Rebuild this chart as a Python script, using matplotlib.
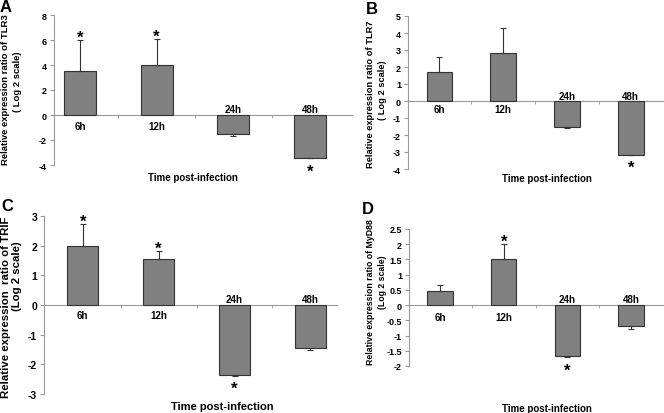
import numpy as np
import matplotlib.pyplot as plt

plt.rcParams['font.family'] = ['Liberation Sans', 'DejaVu Sans']
plt.rcParams['font.weight'] = 'bold'

times = ['6h', '12h', '24h', '48h']

# values (log2 ratio) and error bar ends
tlr3 = [3.55, 4.0, -1.55, -3.4]
tlr3_err = [2.45, 2.05, 0.1, 0.05]
tlr3_star = [True, True, False, True]

tlr7 = [1.7, 2.85, -1.5, -3.15]
tlr7_err = [0.9, 1.45, 0.1, 0.0]
tlr7_star = [False, False, False, True]

trif = [2.0, 1.55, -2.35, -1.45]
trif_err = [0.72, 0.27, 0.03, 0.07]
trif_star = [True, True, True, False]

myd88 = [0.47, 1.52, -1.67, -0.67]
myd88_err = [0.18, 0.48, 0.05, 0.11]
myd88_star = [False, True, True, False]

W, H = 664, 414
fig = plt.figure(figsize=(W / 100, H / 100), dpi=100)


def px_axes(l, r, t, b):
    return fig.add_axes([l / W, 1 - b / H, (r - l) / W, (b - t) / H])


def panel(ax, vals, errs, stars, ylim, yticks, xlim, width, tick_fs,
          lab_below, lab_above, xl_pos, xl_fs):
    x = np.arange(len(vals))
    ax.bar(x, vals, width=width, color='#808080', edgecolor='#333333',
           linewidth=0.8, zorder=3)
    lo = [e if v < 0 else 0 for v, e in zip(vals, errs)]
    hi = [e if v >= 0 else 0 for v, e in zip(vals, errs)]
    ax.errorbar(x, vals, yerr=[lo, hi], fmt='none', ecolor='#333333',
                elinewidth=0.8, capsize=2.5, capthick=0.8, zorder=4)
    for i, v in enumerate(vals):
        if v >= 0:
            ax.annotate(times[i], (i, 0), xytext=(0, -lab_below * 0.72),
                        textcoords='offset points', ha='center', va='center',
                        fontsize=7, fontweight='bold')
        else:
            ax.annotate(times[i], (i, 0), xytext=(0, lab_above * 0.72),
                        textcoords='offset points', ha='center', va='center',
                        fontsize=7, fontweight='bold')
        if stars[i]:
            end = v + errs[i] if v >= 0 else v - errs[i]
            dy = 8 if v >= 0 else -8
            ax.annotate('*', (i, end), xytext=(0, dy * 0.72 - 3.5),
                        textcoords='offset points', ha='center', va='center',
                        fontsize=12, fontweight='bold', annotation_clip=False)
    ax.set_xlim(*xlim)
    ax.set_ylim(*ylim)
    ax.set_yticks(yticks)
    ax.set_yticklabels([('%g' % t) for t in yticks], fontsize=tick_fs,
                       fontweight='bold')
    ax.set_xticks([])
    ax.set_xticks([0.5, 1.5, 2.5], minor=True)
    ax.tick_params(axis='x', which='minor', length=2, color='#999999',
                   direction='out')
    ax.tick_params(axis='y', length=3, color='#999999', pad=2)
    for s in ['top', 'right']:
        ax.spines[s].set_visible(False)
    ax.spines['bottom'].set_position(('data', 0))
    ax.spines['bottom'].set_color('#999999')
    ax.spines['left'].set_color('#999999')
    ax.patch.set_alpha(0)
    ax.text(xl_pos[0], xl_pos[1], 'Time post-infection', transform=ax.transAxes,
            ha='center', va='center', fontsize=xl_fs, fontweight='bold')


axA = px_axes(54, 352, 16, 166)
panel(axA, tlr3, tlr3_err, tlr3_star, (-4, 8), [-4, -2, 0, 2, 4, 6, 8],
      (-0.34, 3.55), 0.42, 6.5, 11, 6, (0.466, -0.08), 7)

axB = px_axes(408, 664, 17, 170)
panel(axB, tlr7, tlr7_err, tlr7_star, (-4, 5), list(range(-4, 6)),
      (-0.49, 3.52), 0.4, 6.5, 8, 5, (0.543, -0.059), 7)

axC = px_axes(44, 337, 217, 395)
panel(axC, trif, trif_err, trif_star, (-3, 3), list(range(-3, 4)),
      (-0.51, 3.35), 0.41, 7.5, 10, 6, (0.607, -0.067), 8)

axD = px_axes(409, 664, 230, 367)
panel(axD, myd88, myd88_err, myd88_star, (-2, 2.5),
      [-2, -1.5, -1, -0.5, 0, 0.5, 1, 1.5, 2, 2.5],
      (-0.49, 3.52), 0.4, 6.5, 12, 6, (0.541, -0.307), 7)

# y labels, two separate lines each
def ylab(x, y, s, fs):
    fig.text(x / W, 1 - y / H, s, rotation=90, ha='center', va='center',
             fontsize=fs, fontweight='bold')

ylab(6, 90, 'Relative expression ratio of TLR3', 6.8)
ylab(18, 82, '( Log 2 scale)', 6.8)
ylab(371, 94, 'Relative expression ratio of TLR7', 6.7)
ylab(383, 90, '( Log 2 scale)', 6.7)
ylab(6, 307, 'Relative expression  ratio of TRIF', 8.2)
ylab(17, 276, '(Log 2 scale)', 8.2)
ylab(371, 292, 'Relative expression ratio of MyD88', 6.3)
ylab(383, 282, '(Log 2 scale)', 6.3)

# panel letters
for lx, ly, letter in [(6, 7, 'A'), (372, 10, 'B'), (7, 207, 'C'), (368, 210, 'D')]:
    fig.text(lx / W, 1 - ly / H, letter, ha='center', va='center',
             fontsize=12, fontweight='bold')

fig.savefig('out.png', dpi=100)
